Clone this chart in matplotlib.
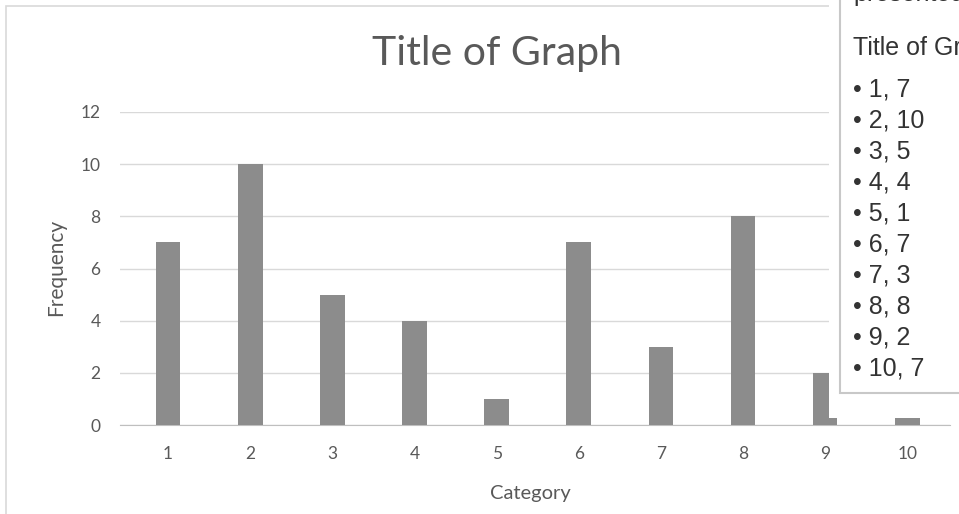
import matplotlib
matplotlib.use('Agg')
import matplotlib.pyplot as plt
from matplotlib.patches import Rectangle

# data
categories = [1, 2, 3, 4, 5, 6, 7, 8, 9, 10]
frequency = [7, 10, 5, 4, 1, 7, 3, 8, 2, 7]
title = 'Title of Graph'

W, H = 959, 514
fig = plt.figure(figsize=(W / 100, H / 100), dpi=100)
fig.patch.set_facecolor('white')

def fx(px):
    return px / W

def fy(py):
    return 1 - py / H

# chart frame
fig.add_artist(Rectangle((fx(6), fy(600)), fx(1100), 594 / H, transform=fig.transFigure,
                         fill=False, edgecolor='#d9d9d9', lw=1.2, zorder=1))

ax = fig.add_axes([fx(120), fy(425), fx(950 - 120), (425 - 112) / H], zorder=2)
ax.patch.set_alpha(0)
ax.bar(categories, frequency, width=0.3, color='#8c8c8c', zorder=3)
ax.set_xlim(0.415, 10.52)
ax.set_ylim(0, 12)
ax.set_yticks(range(0, 13, 2))
ax.set_xticks(categories)
ax.grid(axis='y', color='#d9d9d9', lw=1)
for s in ['top', 'right', 'left']:
    ax.spines[s].set_visible(False)
ax.spines['bottom'].set_color('#bfbfbf')
ax.tick_params(length=0, labelcolor='#595959', labelsize=12.5)
ax.tick_params(axis='y', pad=14)
ax.tick_params(axis='x', pad=15)
for lab in ax.get_xticklabels() + ax.get_yticklabels():
    lab.set_family('Lato')

fig.text(fx(497), fy(54), title, ha='center', va='center', fontsize=29.5,
         color='#595959', family='Lato')
fig.text(fx(56), fy(267), 'Frequency', ha='center', va='center', rotation=90,
         fontsize=15, color='#595959', family='Lato')
fig.text(fx(530), fy(493), 'Category', ha='center', va='center',
         fontsize=14.5, color='#595959', family='Lato')

# tooltip overlay
fig.add_artist(Rectangle((fx(829), fy(418)), fx(200), 430 / H, transform=fig.transFigure,
                         facecolor='white', edgecolor='none', zorder=5))
fig.add_artist(Rectangle((fx(840), fy(393)), fx(200), 400 / H, transform=fig.transFigure,
                         facecolor='white', edgecolor='#c8c8c8', lw=1.5, zorder=6))
tip = dict(ha='left', fontsize=18, color='#333333',
           family='Liberation Sans', zorder=7)
fig.text(fx(853), fy(1), 'presented', va='baseline', **tip)
fig.text(fx(853), fy(48), title, va='center', **tip)
for i, (c, f) in enumerate(zip(categories, frequency)):
    fig.text(fx(853), fy(90 + i * 30.9), '\u2022 %d, %d' % (c, f), va='center', **tip)

fig.savefig('out.png', dpi=100)
